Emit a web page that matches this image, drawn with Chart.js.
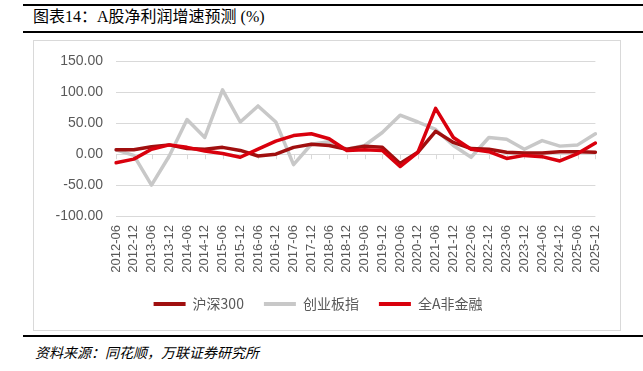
<!DOCTYPE html>
<html>
<head>
<meta charset="utf-8">
<script src="https://cdn.jsdelivr.net/npm/chart.js@4.4.0/dist/chart.umd.min.js"></script>
<style>
  html, body { margin:0; padding:0; background:#fff; }
  body { width:643px; height:371px; position:relative; overflow:hidden; }
  .rule { position:absolute; left:23px; right:0; height:2px; background:#000; }
  #title { position:absolute; left:33px; top:7px; font-family:"Liberation Serif","Noto Sans CJK SC",serif; font-size:16px; color:#000; white-space:nowrap; line-height:20px; }
  #box { position:absolute; left:33px; top:40px; width:586px; height:289px; border:1px solid #d9d9d9; }
  #wrap { position:absolute; left:33px; top:40px; width:587px; height:290px; }
  #src { position:absolute; left:35px; top:343px; font-family:"Noto Sans CJK SC",sans-serif; font-style:italic; font-size:14px; color:#000; white-space:nowrap; line-height:18px; }
</style>
</head>
<body>
<div class="rule" style="top:4px"></div>
<div id="title">图表14：A股净利润增速预测 (%)</div>
<div class="rule" style="top:31px"></div>
<div id="box"></div>
<div id="wrap"><canvas id="c" width="587" height="290"></canvas></div>
<div class="rule" style="top:335px"></div>
<div id="src">资料来源：同花顺，万联证券研究所</div>
<script>
const categories = ["2012-06","2012-12","2013-06","2013-12","2014-06","2014-12","2015-06","2015-12","2016-06","2016-12","2017-06","2017-12","2018-06","2018-12","2019-06","2019-12","2020-06","2020-12","2021-06","2021-12","2022-06","2022-12","2023-06","2023-12","2024-06","2024-12","2025-06","2025-12"];
const hs300 = [7, 7, 12, 15, 9, 8, 11, 6, -3, 0, 11, 16, 14, 8, 13, 11, -15, 3, 37, 19, 9, 8, 3, 2, 2, 4, 4, 3];
const cyb = [7, -2, -50, -3, 56, 27, 104, 52, 78, 52, -17, 16, 20, 8, 14, 35, 63, 52, 40, 14, -5, 27, 24, 8, 22, 13, 15, 33];
const quanA = [-14, -8, 8, 15, 11, 5, 1, -5, 8, 21, 30, 33, 25, 6, 7, 6, -20, 3, 74, 27, 8, 4, -7, -2, -4, -11, 1, 18];
const seriesNames = ["沪深300", "创业板指", "全A非金融"];
const yTicks = [-100, -50, 0, 50, 100, 150];

const colors = ["#a00f0f", "#c8c8c8", "#d9000d"];
const GRID = "#d9d9d9";
const TXT = "#595959";

const zeroTicks = {
  id: "zeroTicks",
  beforeDatasetsDraw(chart) {
    const x = chart.scales.x, y = chart.scales.y, ctx = chart.ctx;
    const y0 = y.getPixelForValue(0);
    ctx.save();
    ctx.strokeStyle = GRID;
    ctx.lineWidth = 1;
    ctx.beginPath();
    for (let i = 0; i < categories.length; i++) {
      const px = Math.round(x.getPixelForTick(i)) + 0.5;
      ctx.moveTo(px, y0);
      ctx.lineTo(px, y0 + 5);
    }
    ctx.stroke();
    ctx.restore();
  }
};

new Chart(document.getElementById("c"), {
  type: "line",
  data: {
    labels: categories,
    datasets: [
      { label: seriesNames[0], data: hs300, borderColor: colors[0], backgroundColor: colors[0], order: 1 },
      { label: seriesNames[1], data: cyb, borderColor: colors[1], backgroundColor: colors[1], order: 2 },
      { label: seriesNames[2], data: quanA, borderColor: colors[2], backgroundColor: colors[2], order: 0 }
    ]
  },
  options: {
    responsive: false,
    animation: false,
    devicePixelRatio: 1,
    elements: { line: { borderWidth: 3.5, tension: 0, borderJoinStyle: "round", borderCapStyle: "round" }, point: { radius: 0 } },
    layout: { padding: { top: 7, right: 17, left: 0, bottom: 9 } },
    plugins: {
      tooltip: { enabled: false },
      legend: {
        position: "bottom",
        labels: {
          boxWidth: 32, boxHeight: 4, padding: 20,
          color: TXT,
          font: { family: "'Noto Sans CJK SC', sans-serif", size: 14 },
          generateLabels(chart) {
            return chart.data.datasets.map((d, i) => ({
              text: d.label, fillStyle: d.borderColor, strokeStyle: d.borderColor,
              lineWidth: 0, hidden: false, datasetIndex: i, fontColor: TXT
            }));
          }
        }
      }
    },
    scales: {
      x: {
        offset: false,
        grid: { display: false, drawTicks: false },
        border: { display: false },
        ticks: {
          autoSkip: false, maxRotation: 90, minRotation: 90, padding: 9,
          color: TXT, font: { family: "'Liberation Sans', Arial, sans-serif", size: 13 }
        },
        afterFit(s) { s.height = 61; }
      },
      y: {
        min: -100, max: 150,
        afterBuildTicks(s) { s.ticks = yTicks.map(v => ({ value: v })); },
        grid: { color: GRID, lineWidth: 1, drawTicks: false },
        border: { display: false },
        ticks: {
          padding: 13, color: TXT,
          font: { family: "'Liberation Sans', Arial, sans-serif", size: 14 },
          callback: v => Number(v).toFixed(2)
        },
        afterFit(s) { s.width = 83; }
      }
    }
  },
  plugins: [zeroTicks]
});
</script>
</body>
</html>
